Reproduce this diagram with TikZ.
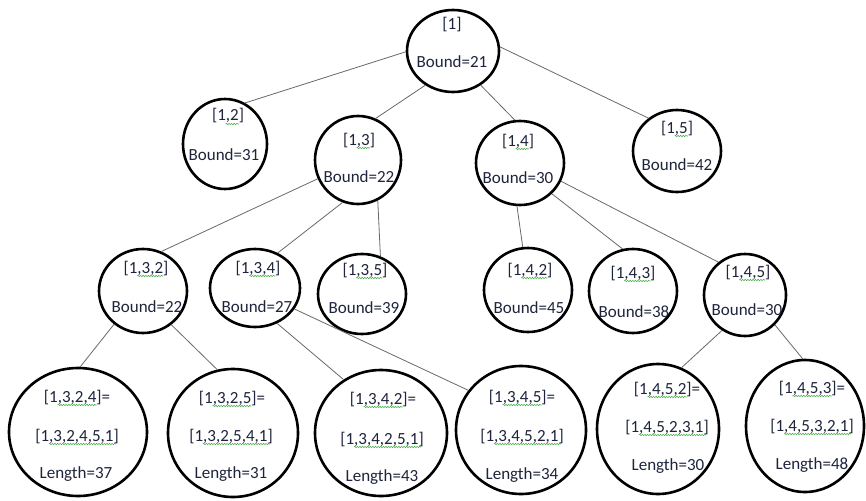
\documentclass[tikz,border=0pt]{standalone}
\usepackage{fontspec}
\setmainfont{Carlito}
\usetikzlibrary{shapes.geometric,decorations.pathmorphing}
\definecolor{txtc}{RGB}{30,36,60}
\definecolor{edgec}{RGB}{105,105,105}
\definecolor{sqc}{RGB}{70,175,70}
\tikzset{
 circ/.style={ellipse,draw=black,line width=2.6pt,inner sep=0pt},
 txt/.style={anchor=base,inner sep=0pt,text=txtc,font=\fontsize{17}{20}\selectfont},
 edge/.style={draw=edgec,line width=0.8pt},
 squig/.style={draw=sqc,line width=0.55pt,decorate,decoration={snake,amplitude=0.7pt,segment length=2.6pt}}
}
\newcommand\cnode[5]{\node[circ,minimum width=#4pt,minimum height=#5pt] (#1) at (#2,#3) {};}
\newcommand\btext[5]{%
 \node[txt] (#1) at (#2,#3) {#4};
 \draw[squig] ([xshift=13.8pt,yshift=-3pt]#1.base west) -- ([xshift=-#5pt,yshift=-3pt]#1.base east);}
\begin{document}
\begin{tikzpicture}[x=1pt,y=-1pt]
\fill[white] (0,0) rectangle (866,500);
\useasboundingbox (0,0) rectangle (866,500);
% ellipses
\cnode{r}{453}{51}{92}{82}
\cnode{n12}{225}{144}{84}{90}
\cnode{n13}{358}{160}{86}{88}
\cnode{n14}{520}{163}{88}{84}
\cnode{n15}{677}{151}{88}{82}
\cnode{n132}{143}{291}{88}{84}
\cnode{n134}{255}{288}{90}{78}
\cnode{n135}{362}{294}{88}{80}
\cnode{n142}{528}{290}{88}{84}
\cnode{n143}{633}{291}{88}{84}
\cnode{n145}{745}{295}{82}{82}
\cnode{n1324}{78}{432}{138}{128}
\cnode{n1325}{233}{433}{130}{128}
\cnode{n1342}{381}{433}{132}{126}
\cnode{n1345}{521}{430}{130}{128}
\cnode{n1452}{658}{429}{122}{130}
\cnode{n1453}{805}{426}{118}{132}
% edges
\draw[edge] (r.181) -- (n12.64);
\draw[edge] (r.231) -- (n13.67);
\draw[edge] (r.309) -- (n14.97);
\draw[edge] (r.5) -- (n15.131);
\draw[edge] (n13.205) -- (n132.65);
\draw[edge] (n13.250) -- (n134.57);
\draw[edge] (n13.296) -- (n135.64);
\draw[edge] (n14.266) -- (n142.97);
\draw[edge] (n14.316) -- (n143.104);
\draw[edge] (n14.336) -- (n145.129);
\draw[edge] (n132.229) -- (n1324.88);
\draw[edge] (n132.310) -- (n1325.104);
\draw[edge] (n134.302) -- (n1342.125);
\draw[edge] (n134.332) -- (n1345.143);
\draw[edge] (n145.237) -- (n1452.69);
\draw[edge] (n145.315) -- (n1453.92);
% texts
\node[txt] (tr1) at (452,30) {[1]};
\node[txt] (tr2) at (452,68) {Bound=21};
\btext{t12a}{228}{121}{[1,2]}{5.2}
\node[txt] (t12b) at (224,160) {Bound=31};
\btext{t13a}{359}{145}{[1,3]}{5.2}
\node[txt] (t13b) at (359,182) {Bound=22};
\btext{t14a}{518}{146}{[1,4]}{5.2}
\node[txt] (t14b) at (518,183) {Bound=30};
\btext{t15a}{677}{133}{[1,5]}{5.2}
\node[txt] (t15b) at (677,170) {Bound=42};
\btext{t132a}{146}{273}{[1,3,2]}{5.2}
\node[txt] (t132b) at (147,312) {Bound=22};
\btext{t134a}{258}{273}{[1,3,4]}{5.2}
\node[txt] (t134b) at (257,312) {Bound=27};
\btext{t135a}{365}{275}{[1,3,5]}{5.2}
\node[txt] (t135b) at (364,313) {Bound=39};
\btext{t142a}{530}{275}{[1,4,2]}{5.2}
\node[txt] (t142b) at (529,313) {Bound=45};
\btext{t143a}{633}{278}{[1,4,3]}{5.2}
\node[txt] (t143b) at (634,317) {Bound=38};
\btext{t145a}{748}{277}{[1,4,5]}{5.2}
\node[txt] (t145b) at (747,315) {Bound=30};
\btext{t1324a}{77}{402}{[1,3,2,4]=}{13.7}
\btext{t1324b}{77}{441}{[1,3,2,4,5,1]}{3}
\node[txt] (t1324c) at (76,478) {Length=37};
\btext{t1325a}{232}{403}{[1,3,2,5]=}{13.7}
\btext{t1325b}{231}{441}{[1,3,2,5,4,1]}{3}
\node[txt] (t1325c) at (231,478) {Length=31};
\btext{t1342a}{383}{404}{[1,3,4,2]=}{13.7}
\btext{t1342b}{382}{444}{[1,3,4,2,5,1]}{3}
\node[txt] (t1342c) at (382,481) {Length=43};
\btext{t1345a}{522}{402}{[1,3,4,5]=}{13.7}
\btext{t1345b}{522}{441}{[1,3,4,5,2,1]}{3}
\node[txt] (t1345c) at (522,479) {Length=34};
\btext{t1452a}{667}{394}{[1,4,5,2]=}{13.7}
\btext{t1452b}{667}{432}{[1,4,5,2,3,1]}{3}
\node[txt] (t1452c) at (668,470) {Length=30};
\btext{t1453a}{812}{393}{[1,4,5,3]=}{13.7}
\btext{t1453b}{812}{431}{[1,4,5,3,2,1]}{3}
\node[txt] (t1453c) at (812,469) {Length=48};
\end{tikzpicture}
\end{document}
